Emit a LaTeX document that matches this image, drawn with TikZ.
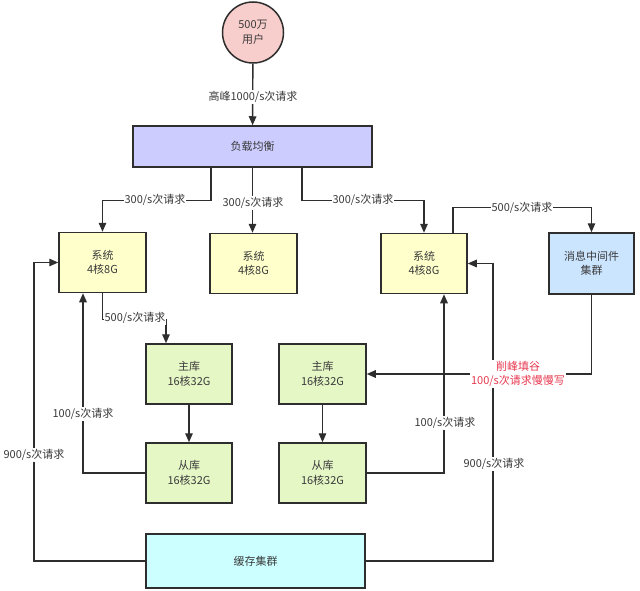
\documentclass[tikz,border=0pt]{standalone}
\usepackage{fontspec}
\setmainfont{Noto Sans CJK SC}
\usetikzlibrary{arrows.meta,calc}
\definecolor{ln}{HTML}{2E2E2E}
\definecolor{tx}{HTML}{3A3A3A}
\definecolor{userfill}{HTML}{F8CECC}
\definecolor{lbfill}{HTML}{CCCCFF}
\definecolor{sysfill}{HTML}{FFFFCC}
\definecolor{mqfill}{HTML}{CCE5FF}
\definecolor{dbfill}{HTML}{E6F7C6}
\definecolor{cachefill}{HTML}{CCFFFF}
\definecolor{redtx}{HTML}{E8384F}
\tikzset{
  box/.style={draw=ln, line width=1.5pt, text=tx, align=center, inner sep=0pt},
  sysbox/.style={box, fill=sysfill, minimum width=87pt, minimum height=60pt},
  dbbox/.style={box, fill=dbfill, minimum width=86pt, minimum height=60pt},
  conn/.style={draw=ln, line width=1.4pt},
  arr/.style={conn, -{Triangle[length=9pt,width=7.5pt]}},
  lbl/.style={fill=white, text=tx, inner sep=1pt, align=center},
}
\begin{document}
\begin{tikzpicture}[x=1pt,y=-1pt,font=\fontsize{11}{14.5}\selectfont]
\useasboundingbox (0,0) rectangle (640,591);
\fill[white] (0,0) rectangle (640,591);

% nodes
\node[box, circle, fill=userfill, minimum size=61pt] (user) at (253,32.5) {500万\\用户};
\node[box, fill=lbfill, minimum width=239pt, minimum height=41pt] (lb) at (252.5,146.5) {负载均衡};
\node[sysbox] (sys1) at (102.5,262.5) {系统\\4核8G};
\node[sysbox] (sys2) at (253.5,263.5) {系统\\4核8G};
\node[sysbox, minimum width=86pt] (sys3) at (424,263.5) {系统\\4核8G};
\node[box, fill=mqfill, minimum width=85pt, minimum height=61pt] (mq) at (591.5,263.5) {消息中间件\\集群};
\node[dbbox] (m1) at (189,374) {主库\\16核32G};
\node[dbbox, minimum width=87pt] (m2) at (322.5,374) {主库\\16核32G};
\node[dbbox] (s1) at (189,473) {从库\\16核32G};
\node[dbbox, minimum width=87pt] (s2) at (322.5,473) {从库\\16核32G};
\node[box, fill=cachefill, minimum width=219pt, minimum height=54pt] (cache) at (255.5,561) {缓存集群};

\coordinate (cl) at (34,561);
\coordinate (cr) at (493,561);

% connectors
\draw[arr] (user) -- (lb);
\draw[arr] ([xshift=-41.5pt]lb.south) -- ++(0,33) -| (sys1.north);
\draw[arr] (lb.south) -- (lb.south |- sys2.north);
\draw[arr] ([xshift=49.5pt]lb.south) -- ++(0,33) -| (sys3.north);
\draw[arr] ([xshift=29pt]sys3.north) -- ++(0,-25) -| (mq.north);
\draw[arr] (sys1.south) -- ++(0,26) -| ([xshift=-23pt]m1.north);
\draw[arr] (m1) -- (s1);
\draw[arr] (m2) -- (s2);
\draw[arr] (s1.west) -| ([xshift=-19.5pt]sys1.south);
\draw[arr] (s2.east) -| ([xshift=20pt]sys3.south);
\draw[arr] (cache.west) -- (cl) |- (sys1.west);
\draw[arr] (cache.east) -- (cr) |- (sys3.east);
\draw[arr] (mq.south) |- (m2.east);

% labels
\node[lbl] (l0) at (253,97) {高峰1000/s次请求};
\node[lbl] (l1) at (155,200) {300/s次请求};
\node[lbl] (l2) at (253,203) {300/s次请求};
\node[lbl] (l3) at (363,200) {300/s次请求};
\node[lbl] (l4) at (522,208) {500/s次请求};
\node[lbl] (l5) at (135,318) {500/s次请求};
\node[lbl] (l6) at (83,414) {100/s次请求};
\node[lbl] (l7) at (445,423) {100/s次请求};
\node[lbl] (l8) at (34,455) {900/s次请求};
\node[lbl] (l9) at (494,464) {900/s次请求};
\node[lbl, text=redtx] (l10) at (518,374) {削峰填谷\\100/s次请求慢慢写};
\end{tikzpicture}
\end{document}
